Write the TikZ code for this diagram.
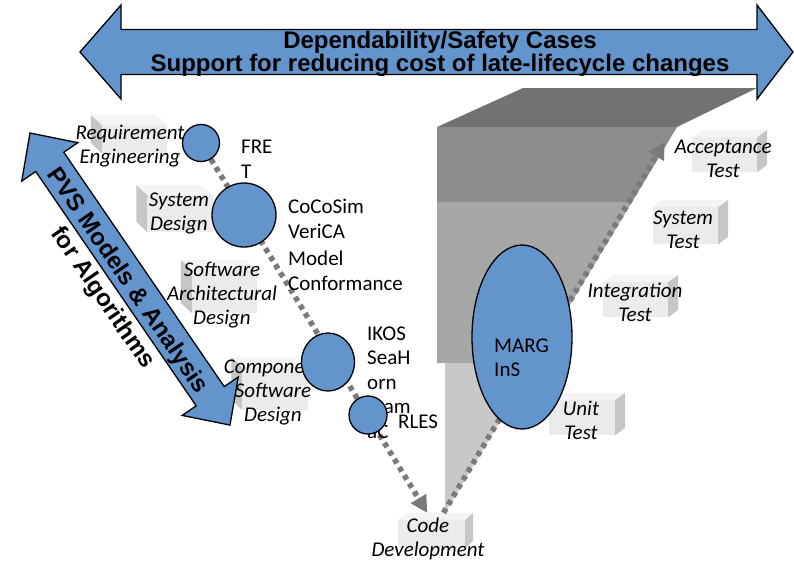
\documentclass[tikz,border=0pt]{standalone}
\usepackage{fontspec}
\setmainfont{Carlito}
\newfontfamily\headfont{Liberation Sans}
\usetikzlibrary{arrows.meta,shapes.geometric}

\definecolor{vblue}{HTML}{6395CC}
\definecolor{dotgray}{HTML}{7A7A7A}
\definecolor{shadeA}{HTML}{727272}
\definecolor{shadeB}{HTML}{8C8C8C}
\definecolor{shadeC}{HTML}{A6A6A6}
\definecolor{shadeD}{HTML}{C8C8C8}
\definecolor{boxfront}{HTML}{EBEBEB}
\definecolor{boxtop}{HTML}{F4F4F4}
\definecolor{boxside}{HTML}{C6C6C6}

\begin{document}
\begin{tikzpicture}[x=1pt,y=-1pt]

\tikzset{fbox/.style = {rectangle, fill=boxfront, minimum width=65pt, inner sep=0pt},
         bside/.style = {fill=boxside},
         btop/.style = {fill=boxtop},
         steplbl/.style = {font=\fontsize{21}{24}\selectfont\itshape, align=center, inner sep=0pt},
         tooltxt/.style = {font=\fontsize{21}{24.5}\selectfont, align=left, inner sep=0pt},
         toolcirc/.style = {circle, draw=black, line width=1.3pt, fill=vblue, inner sep=0pt},
         bigarrow/.style = {fill=vblue, draw=black, line width=1.3pt, line join=miter},
         headtext/.style = {font=\headfont\bfseries\fontsize{24}{23.5}\selectfont, align=center, inner sep=0pt},
         dotline/.style = {draw=dotgray, line width=5.5pt, dash pattern=on 5pt off 4.5pt,
                           -{Triangle[width=17pt,length=17pt]}}}

\useasboundingbox (0,0) rectangle (794,563);

% funnel
\fill[shadeA] (437,127) -- (523,88) -- (757,88) -- (677,127) -- cycle;
\fill[shadeB] (437,127) -- (677,127) -- (632,202) -- (437,202) -- cycle;
\fill[shadeC] (437,202) -- (632,202) -- (535,363) -- (437,363) -- cycle;
\fill[shadeD] (445,363) -- (535,363) -- (445,513) -- cycle;

% design side
\node[fbox, minimum height=28pt] (req) at (134.5,139) {};
\fill[bside] (req.north west) -- ++(-11,-10) -- ++(0,28) -- (req.south west) -- cycle;
\fill[btop] (req.north west) -- ++(-11,-10) -- ++(65,0) -- (req.north east) -- cycle;
\node[fbox, minimum height=37pt] (sysd) at (180,213.5) {};
\fill[bside] (sysd.north west) -- ++(-11,-10) -- ++(0,37) -- (sysd.south west) -- cycle;
\fill[btop] (sysd.north west) -- ++(-11,-10) -- ++(65,0) -- (sysd.north east) -- cycle;
\node[fbox, minimum height=43pt] (arch) at (224.5,291.5) {};
\fill[bside] (arch.north west) -- ++(-11,-10) -- ++(0,43) -- (arch.south west) -- cycle;
\fill[btop] (arch.north west) -- ++(-11,-10) -- ++(65,0) -- (arch.north east) -- cycle;
\node[fbox, minimum height=43pt] (comp) at (275,388.5) {};
\fill[bside] (comp.north west) -- ++(-11,-10) -- ++(0,43) -- (comp.south west) -- cycle;
\fill[btop] (comp.north west) -- ++(-11,-10) -- ++(65,0) -- (comp.north east) -- cycle;

% code and test side
\node[fbox, minimum width=67pt, minimum height=28pt] (code) at (431.5,534) {};
\fill[bside] (code.north east) -- ++(8,-7) -- ++(0,28) -- (code.south east) -- cycle;
\fill[btop] (code.north west) -- ++(8,-7) -- ++(67,0) -- (code.north east) -- cycle;
\node[fbox, minimum width=66pt, minimum height=35pt] (unit) at (582,417.5) {};
\fill[bside] (unit.north east) -- ++(10,-7) -- ++(0,35) -- (unit.south east) -- cycle;
\fill[btop] (unit.north west) -- ++(10,-7) -- ++(66,0) -- (unit.north east) -- cycle;
\node[fbox, minimum height=35pt] (integ) at (635.5,299.5) {};
\fill[bside] (integ.north east) -- ++(10,-7) -- ++(0,35) -- (integ.south east) -- cycle;
\fill[btop] (integ.north west) -- ++(10,-7) -- ++(65,0) -- (integ.north east) -- cycle;
\node[fbox, minimum height=37pt] (syst) at (685.5,225.5) {};
\fill[bside] (syst.north east) -- ++(10,-7) -- ++(0,37) -- (syst.south east) -- cycle;
\fill[btop] (syst.north west) -- ++(10,-7) -- ++(65,0) -- (syst.north east) -- cycle;
\node[fbox, minimum height=35pt] (acc) at (724.5,154.5) {};
\fill[bside] (acc.north east) -- ++(10,-7) -- ++(0,35) -- (acc.south east) -- cycle;
\fill[btop] (acc.north west) -- ++(10,-7) -- ++(65,0) -- (acc.north east) -- cycle;

% big arrows
\filldraw[bigarrow] (80,52) -- (121,5) -- (121,29.5) -- (757,29.5) -- (757,5) -- (793,52)
  -- (757,99) -- (757,74.5) -- (121,74.5) -- (121,99) -- cycle;
\node[headtext] (dep) at (440,54) {Dependability/Safety Cases\\Support for reducing cost of late-lifecycle changes};

\begin{scope}[shift={(30,133)}, rotate=-55.6]
\filldraw[bigarrow] (0,0) -- (35,34) -- (35,17) -- (319,17) -- (319,34) -- (354,0)
  -- (319,-34) -- (319,-17) -- (35,-17) -- (35,-34) -- cycle;
\end{scope}
\node[headtext, font=\headfont\bfseries\fontsize{24}{30}\selectfont, rotate=-55.6] (pvs) at (114.6,289.6) {PVS Models \& Analysis\\for Algorithms};

% flows
\coordinate (fretpos) at (201,143);
\draw[dotline, shorten >=8pt] (fretpos) -- (code.north);
\draw[dotline] ([shift={(12,-7)}]code.north) -- ([shift={(-27,5)}]acc.north west);

% labels
\node[steplbl] (reqt) at (130,146.5) {Requirement\\Engineering};
\node[steplbl] (sysdt) at (179,213.5) {System\\Design};
\node[steplbl] (archt) at (222,295) {Software\\Architectural\\Design};
\node[steplbl] (compt) at (273,392) {Component\\Software\\Design};
\node[steplbl] (codet) at (428,538.5) {Code\\Development};
\node[steplbl] (unitt) at (581,420) {Unit\\Test};
\node[steplbl] (integt) at (635,302.5) {Integration\\Test};
\node[steplbl] (systt) at (683,229.5) {System\\Test};
\node[steplbl] (acct) at (723,158.5) {Acceptance\\Test};

\node[tooltxt, anchor=north west] (fret) at (241,140) {FRE\\T};
\node[tooltxt, anchor=north west] (cocosim) at (288,199) {CoCoSim\\VeriCA\\[3pt]Model\\Conformance};
\node[tooltxt, anchor=north west] (ikos) at (367,326.5) {IKOS\\SeaH\\orn\\Fram\\aC};
\node[tooltxt, anchor=base west] (rles) at (398,428) {RLES};

% tools
\node[toolcirc, minimum size=37pt] (fretc) at (fretpos) {};
\node[toolcirc, minimum size=64pt] (cococ) at (244,215) {};
\node[toolcirc, ellipse, minimum width=53pt, minimum height=58pt] (ikosc) at (328,362) {};
\node[toolcirc, minimum size=38pt] (rlesc) at (368,415) {};
\node[toolcirc, ellipse, minimum width=100pt, minimum height=184pt] (margc) at (522,337) {};
\node[tooltxt] (margt) at (521.5,357.5) {MARG\\InS};

\end{tikzpicture}
\end{document}
